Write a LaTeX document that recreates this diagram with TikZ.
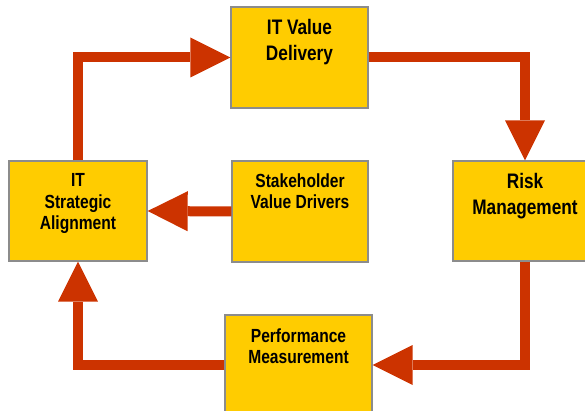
\documentclass[tikz,border=0pt]{standalone}
\usepackage{fontspec}
\setmainfont{Liberation Sans}[FakeStretch=0.82]
\usetikzlibrary{arrows.meta,positioning}

\definecolor{boxyellow}{HTML}{FFCC00}
\definecolor{boxgray}{HTML}{8C8C8C}
\definecolor{arrowred}{HTML}{CC3300}

\tikzset{
    box/.style={draw=boxgray, fill=boxyellow, line width=1.3pt, inner sep=0pt},
    bigtext/.style={anchor=north, inner sep=0pt, align=center, font=\bfseries\fontsize{21}{25.5}\selectfont},
    smalltext/.style={anchor=north, inner sep=0pt, align=center, font=\bfseries\fontsize{19}{21.5}\selectfont},
    flow/.style={draw=arrowred, line width=10pt, line join=miter,
        -{Triangle[length=40pt, width=40pt, line width=0pt]}}
}

\begin{document}
\begin{tikzpicture}[x=1pt, y=-1pt]
    \useasboundingbox (0,0) rectangle (585,411);

    % Boxes
    \node[box, minimum width=137pt, minimum height=101pt] (deliv) at (299.5,57.5) {};
    \node[box, minimum width=138pt, minimum height=100pt] (align) at (78,211) {};
    \node[box, minimum width=136pt, minimum height=101pt] (stake) at (300,211.5) {};
    \node[box, minimum width=144pt, minimum height=100pt] (risk) at (525,211) {};
    \node[box, minimum width=147pt, minimum height=100pt] (perf) at (298.5,365) {};

    % Box texts
    \node[bigtext, below=13pt of deliv.north] (delivtxt) {IT Value\\Delivery};
    \node[smalltext, below=13pt of align.north] (aligntxt) {IT\\Strategic\\Alignment};
    \node[smalltext, below=13pt of stake.north] (staketxt) {Stakeholder\\Value Drivers};
    \node[bigtext, below=13pt of risk.north] (risktxt) {Risk\\Management};
    \node[smalltext, below=14pt of perf.north] (perftxt) {Performance\\Measurement};

    % Cycle
    \draw[flow] (align.north) |- (deliv.west);
    \draw[flow] (deliv.east) -| (risk.north);
    \draw[flow] (risk.south) |- (perf.east);
    \draw[flow] (perf.west) -| (align.south);
    \draw[flow] (stake.west) -- (align.east);
\end{tikzpicture}
\end{document}
